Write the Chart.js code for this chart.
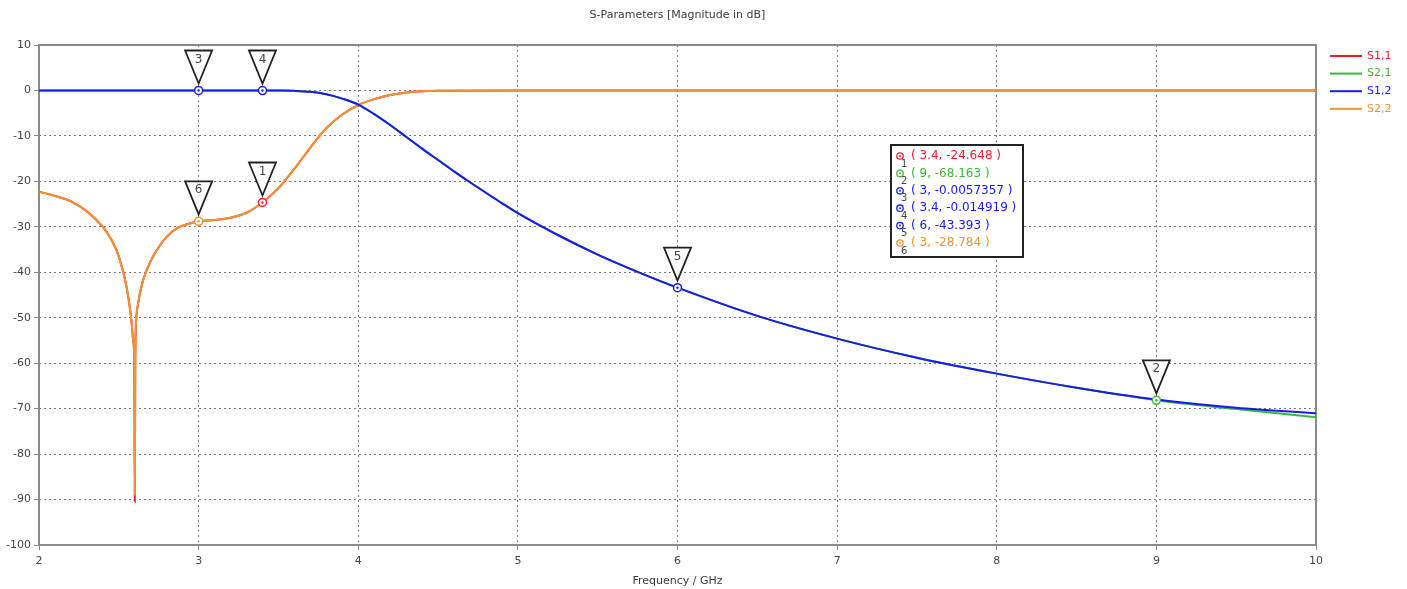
<!DOCTYPE html>
<html>
<head>
<meta charset="utf-8">
<script src="https://cdn.jsdelivr.net/npm/chart.js@4.4.0/dist/chart.umd.min.js"></script>
<style>
  html, body { margin: 0; padding: 0; background: #fff; }
  #wrap { width: 1407px; height: 589px; position: relative; }
</style>
</head>
<body>
<div id="wrap"><canvas id="sparChart"></canvas></div>
<script>
// reflection (S1,1 / S2,2) sample frequencies in GHz
var freqRefl = [2.0, 2.1, 2.2, 2.3, 2.4, 2.45, 2.5, 2.55, 2.58, 2.59, 2.597, 2.6, 2.603, 2.61, 2.62, 2.65, 2.7, 2.75, 2.8, 2.87, 2.95,
    3.0, 3.1, 3.2, 3.3, 3.4, 3.5, 3.6, 3.7, 3.75, 3.8, 3.9, 4.0, 4.1, 4.2, 4.3, 4.4, 4.5, 5, 6, 7, 8, 9, 10];
var s11 = [-22.3, -23.2, -24.4, -26.6, -30.0, -32.6, -36.5, -43.5, -51, -55, -60, -90.5, -60, -50, -47, -42, -37.5, -34.5, -32.2, -30.2, -29.2,
    -28.78, -28.5, -28.0, -26.9, -24.65, -21.5, -17.2, -12.6, -10.3, -8.3, -5.3, -3.2, -1.9, -1.0, -0.45, -0.18, -0.07, -0.01, -0.005, -0.005, -0.005, -0.005, -0.005];
var s22 = [-22.3, -23.2, -24.4, -26.6, -30.0, -32.6, -36.5, -43.5, -51, -55, -60, -89, -60, -50, -47, -42, -37.5, -34.5, -32.2, -30.2, -29.2,
    -28.78, -28.5, -28.0, -26.9, -24.65, -21.5, -17.2, -12.6, -10.3, -8.3, -5.3, -3.2, -1.9, -1.0, -0.45, -0.18, -0.07, -0.01, -0.005, -0.005, -0.005, -0.005, -0.005];

// transmission (S2,1 / S1,2)
var freqTrans = [2, 2.5, 3, 3.4, 3.5, 3.6, 3.7, 3.8, 3.9, 4.0, 4.1, 4.2, 4.3, 4.4, 4.5, 4.6, 4.7, 4.8, 4.9, 5.0,
    5.25, 5.5, 5.75, 6, 6.5, 7, 7.5, 8, 8.5, 9, 9.5, 10];
var s12 = [0, 0, -0.006, -0.015, -0.03, -0.09, -0.3, -0.85, -1.8, -3.1, -5.2, -7.6, -10.2, -12.8, -15.3, -17.8, -20.2, -22.5, -24.8, -27.0,
    -31.8, -36.1, -39.9, -43.39, -49.6, -54.6, -58.8, -62.3, -65.4, -68.0, -69.8, -71.0];
var s21 = [0, 0, -0.006, -0.015, -0.03, -0.09, -0.3, -0.85, -1.8, -3.1, -5.2, -7.6, -10.2, -12.8, -15.3, -17.8, -20.2, -22.5, -24.8, -27.0,
    -31.8, -36.1, -39.9, -43.39, -49.6, -54.6, -58.8, -62.3, -65.4, -68.163, -70.1, -71.9];

var seriesNames = ['S1,1', 'S2,1', 'S1,2', 'S2,2'];
var seriesColors = ['#ee1c25', '#33bb33', '#1a1aee', '#f39232'];

// markers: number, series index, frequency, value
var markerIds = ['1', '2', '3', '4', '5', '6'];
var markerSeries = [0, 1, 2, 2, 2, 3];
var markerFreq = [3.4, 9, 3, 3.4, 6, 3];
var markerVal = [-24.648, -68.163, -0.0057357, -0.014919, -43.393, -28.784];

var xTicks = [2, 3, 4, 5, 6, 7, 8, 9, 10];
var FONT = '"DejaVu Sans", Verdana, sans-serif';

function pts(xs, ys) {
    return xs.map(function(x, i) { return {x: x, y: ys[i]}; });
}

var overlay = {
    id: 'overlay',
    beforeDatasetsDraw: function(chart) {
        var c = chart.ctx, a = chart.chartArea;
        c.save();
        c.strokeStyle = '#8a8a8a';
        c.lineWidth = 2;
        c.strokeRect(a.left, a.top, a.right - a.left, a.bottom - a.top);
        c.restore();
    },
    afterDatasetsDraw: function(chart) {
        var c = chart.ctx, a = chart.chartArea;
        var xs = chart.scales.x, ys = chart.scales.y;
        c.save();
        // title
        c.fillStyle = '#3a3a3a';
        c.font = '11px ' + FONT;
        c.textAlign = 'center';
        c.textBaseline = 'middle';
        c.fillText('S-Parameters [Magnitude in dB]', (a.left + a.right) / 2, 15);

        // marker circles and flags
        for (var i = 0; i < markerIds.length; i++) {
            var px = xs.getPixelForValue(markerFreq[i]);
            var py = ys.getPixelForValue(markerVal[i]);
            var col = seriesColors[markerSeries[i]];
            c.beginPath();
            c.arc(px, py, 4, 0, Math.PI * 2);
            c.fillStyle = '#fff';
            c.fill();
            c.lineWidth = 1.5;
            c.strokeStyle = col;
            c.stroke();
            c.beginPath();
            c.arc(px, py, 1.2, 0, Math.PI * 2);
            c.fillStyle = col;
            c.fill();

            c.beginPath();
            c.moveTo(px - 13.5, py - 40);
            c.lineTo(px + 13.5, py - 40);
            c.lineTo(px, py - 7);
            c.closePath();
            c.fillStyle = '#fff';
            c.fill();
            c.lineWidth = 1.8;
            c.strokeStyle = '#222';
            c.stroke();
            c.fillStyle = '#444';
            c.font = '12px ' + FONT;
            c.fillText(markerIds[i], px, py - 31);
        }

        // marker info box
        var bx = 891, by = 145, bw = 132, bh = 112;
        c.fillStyle = '#fff';
        c.fillRect(bx, by, bw, bh);
        c.lineWidth = 2;
        c.strokeStyle = '#222';
        c.strokeRect(bx, by, bw, bh);
        c.textAlign = 'left';
        for (var j = 0; j < markerIds.length; j++) {
            var ry = 156 + j * 17.4;
            var mc = seriesColors[markerSeries[j]];
            c.beginPath();
            c.arc(900, ry, 3.2, 0, Math.PI * 2);
            c.lineWidth = 1.3;
            c.strokeStyle = mc;
            c.stroke();
            c.beginPath();
            c.arc(900, ry, 1, 0, Math.PI * 2);
            c.fillStyle = mc;
            c.fill();
            c.fillStyle = '#444';
            c.font = '10px ' + FONT;
            c.fillText(markerIds[j], 901, ry + 8);
            c.fillStyle = mc;
            c.font = '12px ' + FONT;
            c.fillText('( ' + markerFreq[j] + ', ' + String(markerVal[j]) + ' )', 911, ry);
        }

        // legend
        c.font = '11px ' + FONT;
        for (var k = 0; k < seriesNames.length; k++) {
            var ly = 56 + k * 17.6;
            c.beginPath();
            c.moveTo(1330, ly);
            c.lineTo(1362, ly);
            c.lineWidth = 2;
            c.strokeStyle = seriesColors[k];
            c.stroke();
            c.fillStyle = seriesColors[k];
            c.fillText(seriesNames[k], 1367, ly);
        }
        c.restore();
    }
};

var ctx = document.getElementById('sparChart').getContext('2d');
var sparChart = new Chart(ctx, {
    type: 'line',
    data: {
        datasets: [
            { label: seriesNames[0], data: pts(freqRefl, s11), borderColor: seriesColors[0], order: 4 },
            { label: seriesNames[1], data: pts(freqTrans, s21), borderColor: seriesColors[1], order: 3 },
            { label: seriesNames[2], data: pts(freqTrans, s12), borderColor: seriesColors[2], order: 1 },
            { label: seriesNames[3], data: pts(freqRefl, s22), borderColor: seriesColors[3], order: 2 }
        ]
    },
    options: {
        responsive: true,
        maintainAspectRatio: false,
        animation: false,
        layout: { padding: { top: 45, right: 91, left: 0, bottom: 0 } },
        elements: {
            point: { radius: 0 },
            line: { borderWidth: 2, cubicInterpolationMode: 'monotone', fill: false }
        },
        plugins: {
            legend: { display: false },
            tooltip: { enabled: false }
        },
        scales: {
            x: {
                type: 'linear',
                min: 2,
                max: 10,
                afterBuildTicks: function(scale) {
                    scale.ticks = xTicks.map(function(v) { return {value: v}; });
                },
                afterFit: function(scale) { scale.height = 44; },
                ticks: { color: '#444', font: { family: FONT, size: 11 }, padding: 5 },
                grid: { color: '#777', tickLength: 5, tickColor: '#888' },
                border: { display: false, dash: [2, 3] },
                title: { display: true, text: 'Frequency / GHz', color: '#3a3a3a', font: { family: FONT, size: 11 }, padding: { top: 0, bottom: 1 } }
            },
            y: {
                min: -100,
                max: 10,
                ticks: { stepSize: 10, color: '#444', font: { family: FONT, size: 11 }, padding: 3 },
                afterFit: function(scale) { scale.width = 39; },
                grid: { color: '#777', tickLength: 5, tickColor: '#888' },
                border: { display: false, dash: [2, 3] }
            }
        }
    },
    plugins: [overlay]
});
</script>
</body>
</html>
